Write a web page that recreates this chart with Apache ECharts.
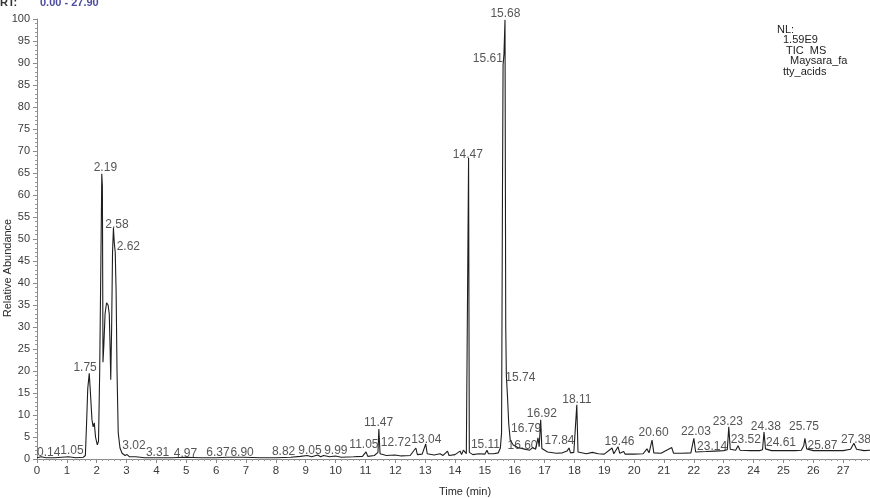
<!DOCTYPE html>
<html>
<head>
<meta charset="utf-8">
<script src="https://cdn.jsdelivr.net/npm/echarts@6/dist/echarts.min.js"></script>
<style>
html,body{margin:0;padding:0;background:#fff;}
#c{width:870px;height:498px;}
</style>
</head>
<body>
<div id="c"></div>
<script>
// Retention times (min) of trace points
var times = [0, 0.14, 0.3, 0.6, 1.05, 1.3, 1.55, 1.62, 1.66, 1.70, 1.75, 1.79, 1.84, 1.88, 1.92, 1.96, 2.02, 2.06, 2.10, 2.14, 2.17, 2.19, 2.21, 2.24, 2.28, 2.33, 2.38, 2.42, 2.45, 2.47, 2.50, 2.53, 2.56, 2.59, 2.62, 2.65, 2.68, 2.72, 2.78, 2.85, 2.95, 3.02, 3.1, 3.31, 3.6, 4.0, 4.5, 4.97, 5.5, 6.0, 6.37, 6.9, 7.5, 8.0, 8.5, 8.82, 9.05, 9.2, 9.4, 9.5, 9.6, 9.8, 9.99, 10.2, 10.6, 10.9, 11.02, 11.08, 11.3, 11.42, 11.45, 11.49, 11.7, 11.99, 12.2, 12.5, 12.69, 12.74, 12.9, 13.02, 13.07, 13.3, 13.5, 13.6, 13.75, 13.8, 14.0, 14.17, 14.22, 14.28, 14.33, 14.38, 14.43, 14.455, 14.48, 14.6, 14.8, 15.0, 15.07, 15.12, 15.3, 15.45, 15.52, 15.56, 15.59, 15.61, 15.64, 15.675, 15.70, 15.72, 15.76, 15.8, 15.85, 15.95, 16.1, 16.3, 16.5, 16.6, 16.7, 16.78, 16.82, 16.87, 16.91, 17.1, 17.4, 17.6, 17.75, 17.82, 17.87, 17.98, 18.08, 18.12, 18.4, 18.6, 18.8, 19.0, 19.26, 19.32, 19.46, 19.52, 19.65, 19.7, 20.0, 20.3, 20.43, 20.5, 20.6, 20.66, 20.9, 21.26, 21.32, 21.6, 21.9, 22.0, 22.06, 22.4, 22.7, 23.0, 23.12, 23.17, 23.22, 23.4, 23.48, 23.55, 23.9, 24.2, 24.3, 24.35, 24.4, 24.6, 25.0, 25.4, 25.6, 25.68, 25.72, 25.78, 26.0, 26.5, 27.0, 27.25, 27.36, 27.45, 27.7, 27.9];
// Relative abundance (%) at each time
var abundance = [0.3, 0.5, 0.3, 0.3, 0.5, 0.3, 0.4, 0.8, 8, 16, 19.5, 15, 9, 7.3, 8.2, 5, 3.2, 4, 20, 45, 64.8, 62, 22, 26, 33, 35.5, 35, 33, 25, 18, 30, 47, 52.5, 49, 47, 38, 20, 6, 2.5, 1.3, 0.8, 1.0, 0.5, 0.5, 0.3, 0.3, 0.3, 0.4, 0.3, 0.3, 0.4, 0.4, 0.3, 0.3, 0.4, 0.6, 0.8, 0.5, 0.9, 0.5, 0.8, 0.5, 0.7, 0.4, 0.5, 0.6, 1.6, 0.6, 0.8, 1.5, 6.8, 1.2, 0.8, 0.9, 0.7, 0.8, 2.5, 1.0, 1.1, 3.4, 1.2, 0.9, 1.2, 0.8, 1.8, 0.8, 1.0, 1.8, 1.0, 2.0, 2.4, 1.2, 1.5, 68.4, 1.5, 1.0, 1.2, 1.1, 2.0, 1.2, 1.2, 1.4, 2.5, 6, 60, 89.5, 92, 99.8, 30, 19, 14, 8, 4.3, 3.2, 2.6, 2.3, 2.0, 2.6, 2.2, 4.8, 2.8, 8.9, 2.4, 1.6, 1.3, 1.4, 1.8, 2.5, 1.4, 1.5, 12.3, 1.6, 1.2, 1.5, 1.2, 1.1, 2.5, 1.2, 2.8, 1.3, 1.7, 1.1, 1.1, 1.2, 2.3, 1.4, 4.3, 1.4, 1.3, 2.6, 1.3, 1.3, 1.4, 4.7, 1.6, 1.7, 1.8, 1.9, 2.1, 7.3, 2.2, 2.0, 3.0, 2.0, 1.9, 1.9, 2.1, 6.1, 2.3, 1.9, 1.9, 1.9, 2.0, 3.0, 4.7, 2.3, 1.9, 1.9, 1.9, 2.2, 3.6, 2.2, 1.9, 2.0];

// Peak annotations: text and where the text sits (time, abundance)
var peakLabels = ["0.14", "1.05", "1.75", "2.19", "2.58", "2.62", "3.02", "3.31", "4.97", "6.37", "6.90", "8.82", "9.05", "9.99", "11.05", "11.47", "12.72", "13.04", "14.47", "15.11", "15.61", "15.68", "15.74", "16.60", "16.79", "16.92", "17.84", "18.11", "19.46", "20.60", "22.03", "23.14", "23.23", "23.52", "24.38", "24.61", "25.75", "25.87", "27.38"];
var labelTimes = [0.39, 1.17, 1.61, 2.29, 2.68, 3.06, 3.25, 4.04, 4.97, 6.06, 6.87, 8.26, 9.14, 10.01, 10.95, 11.44, 12.02, 13.04, 14.43, 15.02, 15.10, 15.69, 16.19, 16.26, 16.38, 16.91, 17.50, 18.08, 19.51, 20.65, 22.07, 22.61, 23.14, 23.74, 24.41, 24.92, 25.69, 26.31, 27.43];
var labelAbund = [1.4, 2.0, 20.7, 66.1, 53.2, 48.2, 3.0, 1.4, 1.1, 1.4, 1.4, 1.6, 2.0, 1.8, 3.2, 8.2, 3.6, 4.3, 69.1, 3.2, 90.9, 101.1, 18.4, 3.0, 7.0, 10.2, 4.1, 13.4, 3.9, 5.9, 6.1, 2.7, 8.4, 4.5, 7.3, 3.6, 7.3, 3.0, 4.5];

var xTicks = {min: 0, max: 27.9, interval: 1};
var yTicks = {min: 0, max: 100, interval: 5};

var FONT = "'Liberation Sans', Arial, sans-serif";

var trace = times.map(function (t, i) { return [t, abundance[i]]; });
var labelData = peakLabels.map(function (s, i) { return {name: s, value: [labelTimes[i], labelAbund[i]]}; });

var chart = echarts.init(document.getElementById('c'), null, {renderer: 'canvas'});
chart.setOption({
  animation: false,
  backgroundColor: '#ffffff',
  grid: {left: 37, right: 0, top: 19, bottom: 39, containLabel: false},
  xAxis: {
    type: 'value', min: xTicks.min, max: xTicks.max, interval: xTicks.interval,
    axisLine: {show: true, lineStyle: {color: '#8a8a8a', width: 1}},
    axisTick: {show: true, length: 4, lineStyle: {color: '#8a8a8a'}},
    minorTick: {show: true, splitNumber: 5, length: 2, lineStyle: {color: '#9a9a9a'}},
    splitLine: {show: false},
    axisLabel: {color: '#3a3a3a', fontSize: 11.5, fontFamily: FONT, margin: 6, showMaxLabel: false,
      formatter: function (v) { return (Math.abs(v - Math.round(v)) < 1e-6) ? String(Math.round(v)) : ''; }}
  },
  yAxis: {
    type: 'value', min: yTicks.min, max: yTicks.max, interval: yTicks.interval,
    axisLine: {show: true, lineStyle: {color: '#8a8a8a', width: 1}},
    axisTick: {show: true, length: 4, lineStyle: {color: '#8a8a8a'}},
    minorTick: {show: true, splitNumber: 5, length: 2, lineStyle: {color: '#9a9a9a'}},
    splitLine: {show: false},
    axisLabel: {color: '#3a3a3a', fontSize: 11, fontFamily: FONT, margin: 7}
  },
  series: [
    {
      type: 'line', data: trace, showSymbol: false, symbol: 'none', smooth: false,
      lineStyle: {color: '#1e1e1e', width: 1.1}, clip: true, z: 2
    },
    {
      type: 'scatter', data: labelData, symbolSize: 0, clip: false, z: 5,
      label: {show: true, position: 'inside', formatter: '{b}', color: '#2a2a2a',
        fontSize: 12, fontFamily: FONT}
    }
  ],
  graphic: [
    {type: 'text', x: 0, y: 3, style: {text: 'RT:', fill: '#333', font: 'bold 11px ' + FONT, textVerticalAlign: 'middle'}},
    {type: 'text', x: 40, y: 3, style: {text: '0.00 - 27.90', fill: '#4b4ba0', font: 'bold 11px ' + FONT, textVerticalAlign: 'middle'}},
    {type: 'text', x: 777, y: 30, style: {text: 'NL:', fill: '#222', font: '11px ' + FONT, textVerticalAlign: 'middle'}},
    {type: 'text', x: 783, y: 39.5, style: {text: '1.59E9', fill: '#222', font: '11px ' + FONT, textVerticalAlign: 'middle'}},
    {type: 'text', x: 786, y: 50.5, style: {text: 'TIC  MS', fill: '#222', font: '11px ' + FONT, textVerticalAlign: 'middle'}},
    {type: 'text', x: 790, y: 61, style: {text: 'Maysara_fa', fill: '#222', font: '11px ' + FONT, textVerticalAlign: 'middle'}},
    {type: 'text', x: 783, y: 71.5, style: {text: 'tty_acids', fill: '#222', font: '11px ' + FONT, textVerticalAlign: 'middle'}},
    {type: 'text', x: 8, y: 268, rotation: Math.PI / 2, style: {text: 'Relative Abundance', fill: '#2a2a2a', font: '11px ' + FONT, textAlign: 'center', textVerticalAlign: 'middle'}},
    {type: 'text', x: 465, y: 492, style: {text: 'Time (min)', fill: '#2a2a2a', font: '11px ' + FONT, textAlign: 'center', textVerticalAlign: 'middle'}}
  ]
});
</script>
</body>
</html>
